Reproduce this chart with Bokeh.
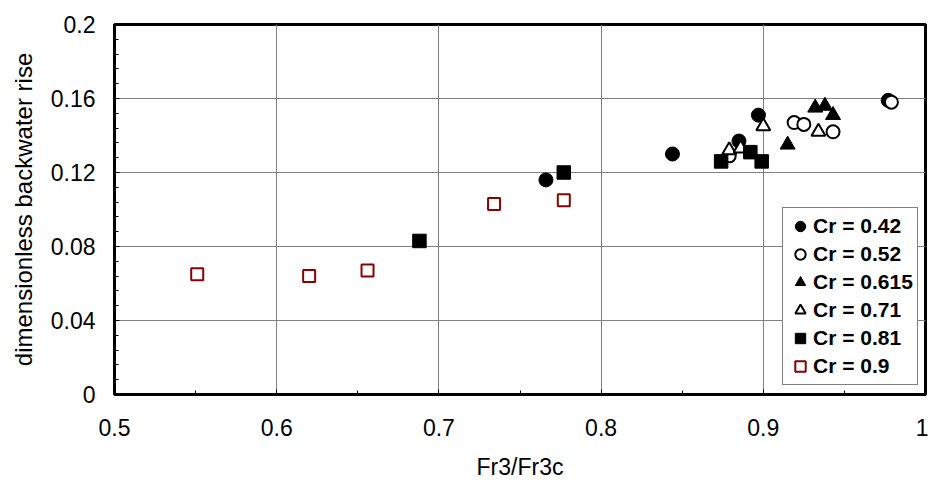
from bokeh.plotting import figure
from bokeh.models import (Range1d, SingleIntervalTicker, CustomJSTickFormatter,
                          Legend, LegendItem)
from bokeh.embed import file_html
from bokeh.resources import INLINE

# Measured points, one pair of lists per constriction ratio Cr
cr042_x = [0.766, 0.844, 0.885, 0.897, 0.977]
cr042_y = [0.116, 0.130, 0.137, 0.151, 0.159]

cr052_x = [0.879, 0.919, 0.925, 0.943, 0.979]
cr052_y = [0.129, 0.147, 0.146, 0.142, 0.158]

cr0615_x = [0.915, 0.932, 0.938, 0.943]
cr0615_y = [0.135, 0.155, 0.156, 0.151]

cr071_x = [0.879, 0.886, 0.900, 0.934]
cr071_y = [0.132, 0.133, 0.145, 0.142]

cr081_x = [0.688, 0.777, 0.874, 0.892, 0.899]
cr081_y = [0.083, 0.120, 0.126, 0.131, 0.126]

cr09_x = [0.551, 0.620, 0.656, 0.734, 0.777]
cr09_y = [0.065, 0.064, 0.067, 0.103, 0.105]

labels = ["Cr = 0.42", "Cr = 0.52", "Cr = 0.615", "Cr = 0.71", "Cr = 0.81", "Cr = 0.9"]

FONT = "Liberation Sans"

p = figure(width=928, height=488, output_backend="svg", toolbar_location=None,
           x_range=Range1d(0.5, 1.0), y_range=Range1d(0.0, 0.2),
           min_border_left=114, min_border_right=3,
           min_border_top=24, min_border_bottom=94)

p.background_fill_color = "white"
p.border_fill_color = "white"
p.outline_line_color = "black"
p.outline_line_width = 3

xt = SingleIntervalTicker(interval=0.1, num_minor_ticks=2)
yt = SingleIntervalTicker(interval=0.04, num_minor_ticks=5)
fmt = CustomJSTickFormatter(code="return Number(tick.toFixed(3)).toString();")

p.xaxis.ticker = xt
p.yaxis.ticker = yt
p.xgrid.ticker = xt
p.ygrid.ticker = yt
p.xaxis.formatter = fmt
p.yaxis.formatter = fmt

for g in (p.xgrid, p.ygrid):
    g.grid_line_color = "#808080"
    g.grid_line_width = 1

for ax in (p.xaxis, p.yaxis):
    ax.axis_line_color = "black"
    ax.axis_line_width = 3
    ax.major_tick_in = 5
    ax.major_tick_out = 0
    ax.minor_tick_in = 4
    ax.minor_tick_out = 0
    ax.major_tick_line_color = "black"
    ax.minor_tick_line_color = "black"
    ax.major_label_text_font = FONT
    ax.major_label_text_font_size = "23px"
    ax.major_label_text_color = "black"
    ax.axis_label_text_font = FONT
    ax.axis_label_text_font_style = "normal"
    ax.axis_label_text_color = "black"

p.xaxis.axis_label = "Fr3/Fr3c"
p.yaxis.axis_label = "dimensionless backwater rise"
p.xaxis.axis_label_text_font_size = "23px"
p.yaxis.axis_label_text_font_size = "24px"
p.xaxis.major_label_standoff = 24
p.xaxis.axis_label_standoff = 15
p.yaxis.major_label_standoff = 19
p.yaxis.axis_label_standoff = 11

r1 = p.scatter(cr042_x, cr042_y, marker="circle", size=14,
               fill_color="black", line_color="black", line_width=1)
r2 = p.scatter(cr052_x, cr052_y, marker="circle", size=13,
               fill_color="white", line_color="black", line_width=2)
r3 = p.scatter(cr0615_x, cr0615_y, marker="triangle", size=15,
               fill_color="black", line_color="black", line_width=1)
r4 = p.scatter(cr071_x, cr071_y, marker="triangle", size=14,
               fill_color="white", line_color="black", line_width=2)
r5 = p.scatter(cr081_x, cr081_y, marker="square", size=13.5,
               fill_color="black", line_color="black", line_width=1)
r6 = p.scatter(cr09_x, cr09_y, marker="square", size=12,
               fill_color="white", line_color="#8B0000", line_width=2)

legend = Legend(
    items=[LegendItem(label=t, renderers=[r]) for t, r in
           zip(labels, [r1, r2, r3, r4, r5, r6])],
    location=(668, 9),
    label_text_font=FONT, label_text_font_size="21px",
    label_text_font_style="bold", label_text_color="black",
    glyph_width=26, glyph_height=28, label_height=28,
    spacing=0, padding=4, margin=0, label_standoff=0,
    border_line_color="black", border_line_width=1,
    background_fill_color="white", background_fill_alpha=1.0,
)
p.add_layout(legend)

open("out.html", "w").write(file_html(p, INLINE))
